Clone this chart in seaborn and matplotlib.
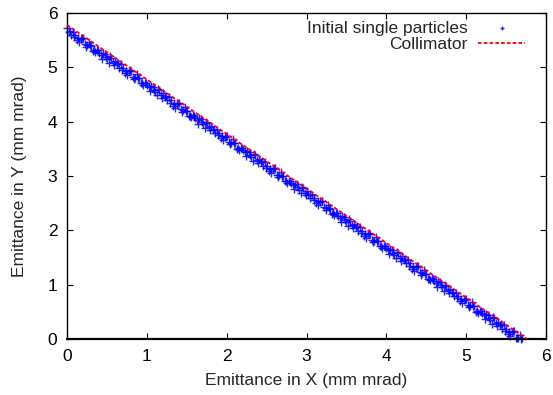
import matplotlib
matplotlib.use("Agg")
import matplotlib.pyplot as plt
import seaborn as sns
import pandas as pd

# Initial single particles (emittance X, emittance Y) in mm mrad -- first group
particle_x = [0.00, 0.05, 0.10, 0.15, 0.20, 0.25, 0.30, 0.35, 0.40, 0.45, 0.50, 0.55,
              0.60, 0.65, 0.70, 0.75, 0.80, 0.85, 0.90, 0.95, 1.00, 1.05, 1.10, 1.15,
              1.20, 1.25, 1.30, 1.35, 1.40, 1.45, 1.50, 1.55, 1.60, 1.65, 1.70, 1.75,
              1.80, 1.85, 1.90, 1.95, 2.00, 2.05, 2.10, 2.15, 2.20, 2.25, 2.30, 2.35,
              2.40, 2.45, 2.50, 2.55, 2.60, 2.65, 2.70, 2.75, 2.80, 2.85, 2.90, 2.95,
              3.00, 3.05, 3.10, 3.15, 3.20, 3.25, 3.30, 3.35, 3.40, 3.45, 3.50, 3.55,
              3.60, 3.65, 3.70, 3.75, 3.80, 3.85, 3.90, 3.95, 4.00, 4.05, 4.10, 4.15,
              4.20, 4.25, 4.30, 4.35, 4.40, 4.45, 4.50, 4.55, 4.60, 4.65, 4.70, 4.75,
              4.80, 4.85, 4.90, 4.95, 5.00, 5.05, 5.10, 5.15, 5.20, 5.25, 5.30, 5.35,
              5.40, 5.45, 5.50, 5.55, 5.60, 5.65, 5.70]
particle_y = [5.72, 5.59, 5.59, 5.46, 5.54, 5.41, 5.40, 5.28, 5.27, 5.26, 5.15, 5.18,
              5.12, 4.99, 4.99, 4.86, 4.94, 4.81, 4.80, 4.68, 4.67, 4.66, 4.55, 4.58,
              4.52, 4.39, 4.39, 4.26, 4.34, 4.21, 4.20, 4.08, 4.07, 4.06, 3.95, 3.98,
              3.92, 3.79, 3.79, 3.66, 3.74, 3.61, 3.60, 3.48, 3.47, 3.46, 3.35, 3.38,
              3.32, 3.19, 3.19, 3.06, 3.14, 3.01, 3.00, 2.88, 2.87, 2.86, 2.75, 2.78,
              2.72, 2.59, 2.59, 2.46, 2.54, 2.41, 2.40, 2.28, 2.27, 2.26, 2.15, 2.18,
              2.12, 1.99, 1.99, 1.86, 1.94, 1.81, 1.80, 1.68, 1.67, 1.66, 1.55, 1.58,
              1.52, 1.39, 1.39, 1.26, 1.34, 1.21, 1.20, 1.08, 1.07, 1.06, 0.95, 0.98,
              0.92, 0.79, 0.79, 0.66, 0.74, 0.61, 0.60, 0.48, 0.47, 0.46, 0.35, 0.38,
              0.32, 0.19, 0.19, 0.06, 0.14, 0.01, 0.02]

# second group of particles
particle_x2 = [0.025, 0.075, 0.125, 0.175, 0.225, 0.275, 0.325, 0.375, 0.425, 0.475,
               0.525, 0.575, 0.625, 0.675, 0.725, 0.775, 0.825, 0.875, 0.925, 0.975,
               1.025, 1.075, 1.125, 1.175, 1.225, 1.275, 1.325, 1.375, 1.425, 1.475,
               1.525, 1.575, 1.625, 1.675, 1.725, 1.775, 1.825, 1.875, 1.925, 1.975,
               2.025, 2.075, 2.125, 2.175, 2.225, 2.275, 2.325, 2.375, 2.425, 2.475,
               2.525, 2.575, 2.625, 2.675, 2.725, 2.775, 2.825, 2.875, 2.925, 2.975,
               3.025, 3.075, 3.125, 3.175, 3.225, 3.275, 3.325, 3.375, 3.425, 3.475,
               3.525, 3.575, 3.625, 3.675, 3.725, 3.775, 3.825, 3.875, 3.925, 3.975,
               4.025, 4.075, 4.125, 4.175, 4.225, 4.275, 4.325, 4.375, 4.425, 4.475,
               4.525, 4.575, 4.625, 4.675, 4.725, 4.775, 4.825, 4.875, 4.925, 4.975,
               5.025, 5.075, 5.125, 5.175, 5.225, 5.275, 5.325, 5.375, 5.425, 5.475,
               5.525, 5.575, 5.625, 5.675]
particle_y2 = [5.655, 5.655, 5.495, 5.525, 5.425, 5.475, 5.305, 5.315, 5.235, 5.245,
               5.085, 5.095, 5.055, 5.055, 4.895, 4.925, 4.825, 4.875, 4.705, 4.715,
               4.635, 4.645, 4.485, 4.495, 4.455, 4.455, 4.295, 4.325, 4.225, 4.275,
               4.105, 4.115, 4.035, 4.045, 3.885, 3.895, 3.855, 3.855, 3.695, 3.725,
               3.625, 3.675, 3.505, 3.515, 3.435, 3.445, 3.285, 3.295, 3.255, 3.255,
               3.095, 3.125, 3.025, 3.075, 2.905, 2.915, 2.835, 2.845, 2.685, 2.695,
               2.655, 2.655, 2.495, 2.525, 2.425, 2.475, 2.305, 2.315, 2.235, 2.245,
               2.085, 2.095, 2.055, 2.055, 1.895, 1.925, 1.825, 1.875, 1.705, 1.715,
               1.635, 1.645, 1.485, 1.495, 1.455, 1.455, 1.295, 1.325, 1.225, 1.275,
               1.105, 1.115, 1.035, 1.045, 0.885, 0.895, 0.855, 0.855, 0.695, 0.725,
               0.625, 0.675, 0.505, 0.515, 0.435, 0.445, 0.285, 0.295, 0.255, 0.255,
               0.095, 0.125, 0.025, 0.075]

# third group of particles
particle_x3 = [0.038, 0.088, 0.138, 0.188, 0.238, 0.288, 0.338, 0.388, 0.438, 0.488,
               0.538, 0.588, 0.638, 0.688, 0.738, 0.788, 0.838, 0.888, 0.938, 0.988,
               1.038, 1.088, 1.138, 1.188, 1.238, 1.288, 1.338, 1.388, 1.438, 1.488,
               1.538, 1.588, 1.638, 1.688, 1.738, 1.788, 1.838, 1.888, 1.938, 1.988,
               2.038, 2.088, 2.138, 2.188, 2.238, 2.288, 2.338, 2.388, 2.438, 2.488,
               2.538, 2.588, 2.638, 2.688, 2.738, 2.788, 2.838, 2.888, 2.938, 2.988,
               3.038, 3.088, 3.138, 3.188, 3.238, 3.288, 3.338, 3.388, 3.438, 3.488,
               3.538, 3.588, 3.638, 3.688, 3.738, 3.788, 3.838, 3.888, 3.938, 3.988,
               4.038, 4.088, 4.138, 4.188, 4.238, 4.288, 4.338, 4.388, 4.438, 4.488,
               4.538, 4.588, 4.638, 4.688, 4.738, 4.788, 4.838, 4.888, 4.938, 4.988,
               5.038, 5.088, 5.138, 5.188, 5.238, 5.288, 5.338, 5.388, 5.438, 5.488,
               5.538, 5.588, 5.638, 5.688]
particle_y3 = [5.672, 5.552, 5.532, 5.542, 5.382, 5.402, 5.312, 5.312, 5.162, 5.192,
               5.202, 5.042, 5.072, 4.952, 4.932, 4.942, 4.782, 4.802, 4.712, 4.712,
               4.562, 4.592, 4.602, 4.442, 4.472, 4.352, 4.332, 4.342, 4.182, 4.202,
               4.112, 4.112, 3.962, 3.992, 4.002, 3.842, 3.872, 3.752, 3.732, 3.742,
               3.582, 3.602, 3.512, 3.512, 3.362, 3.392, 3.402, 3.242, 3.272, 3.152,
               3.132, 3.142, 2.982, 3.002, 2.912, 2.912, 2.762, 2.792, 2.802, 2.642,
               2.672, 2.552, 2.532, 2.542, 2.382, 2.402, 2.312, 2.312, 2.162, 2.192,
               2.202, 2.042, 2.072, 1.952, 1.932, 1.942, 1.782, 1.802, 1.712, 1.712,
               1.562, 1.592, 1.602, 1.442, 1.472, 1.352, 1.332, 1.342, 1.182, 1.202,
               1.112, 1.112, 0.962, 0.992, 1.002, 0.842, 0.872, 0.752, 0.732, 0.742,
               0.582, 0.602, 0.512, 0.512, 0.362, 0.392, 0.402, 0.242, 0.272, 0.152,
               0.132, 0.142, 0.022, 0.002]

# Collimator line
collimator_x = [0.0, 5.76]
collimator_y = [5.78, 0.0]

x_ticks = [0, 1, 2, 3, 4, 5, 6]
y_ticks = [0, 1, 2, 3, 4, 5, 6]

sns.set_style("ticks")
plt.rcParams['font.family'] = ['Liberation Sans', 'DejaVu Sans']

fig = plt.figure(figsize=(5.53, 3.95), dpi=100)
ax = fig.add_axes([67/553, 56/395, (546-67)/553, (339-13)/395])

df_p = pd.DataFrame({"x": particle_x + particle_x2 + particle_x3,
                     "y": particle_y + particle_y2 + particle_y3})
df_c = pd.DataFrame({"x": collimator_x, "y": collimator_y})

sns.scatterplot(data=df_p, x="x", y="y", ax=ax, marker="+", s=32, color="#0000ff",
                linewidth=1.0, alpha=0.85, label="Initial single particles", zorder=2,
                clip_on=False)
sns.lineplot(data=df_c, x="x", y="y", ax=ax, color="#ff0000", linewidth=1.3,
             dashes=False, label="Collimator", zorder=3)
ax.lines[-1].set_linestyle((0, (2.0, 1.2)))

ax.set_xlim(0, 6)
ax.set_ylim(0, 6)
ax.set_xticks(x_ticks)
ax.set_yticks(y_ticks)
ax.tick_params(direction="in", top=True, right=True, length=4, width=0.8,
               labelsize=12.5, colors="black", pad=7)
for s in ax.spines.values():
    s.set_color("black")
    s.set_linewidth(1.0)
ax.spines["bottom"].set_linewidth(1.6)

ax.set_xlabel("Emittance in X (mm mrad)", fontsize=12.5, labelpad=7)
ax.set_ylabel("Emittance in Y (mm mrad)", fontsize=12.5, labelpad=15)

leg = ax.legend(loc="upper right", frameon=False, markerfirst=False, fontsize=12.5,
                handlelength=2.7, borderaxespad=0.0, labelspacing=0.05,
                handletextpad=0.6, bbox_to_anchor=(0.971, 0.998), markerscale=0.6)
for t in leg.get_texts():
    t.set_ha("right")

fig.savefig("out.png", dpi=100)
